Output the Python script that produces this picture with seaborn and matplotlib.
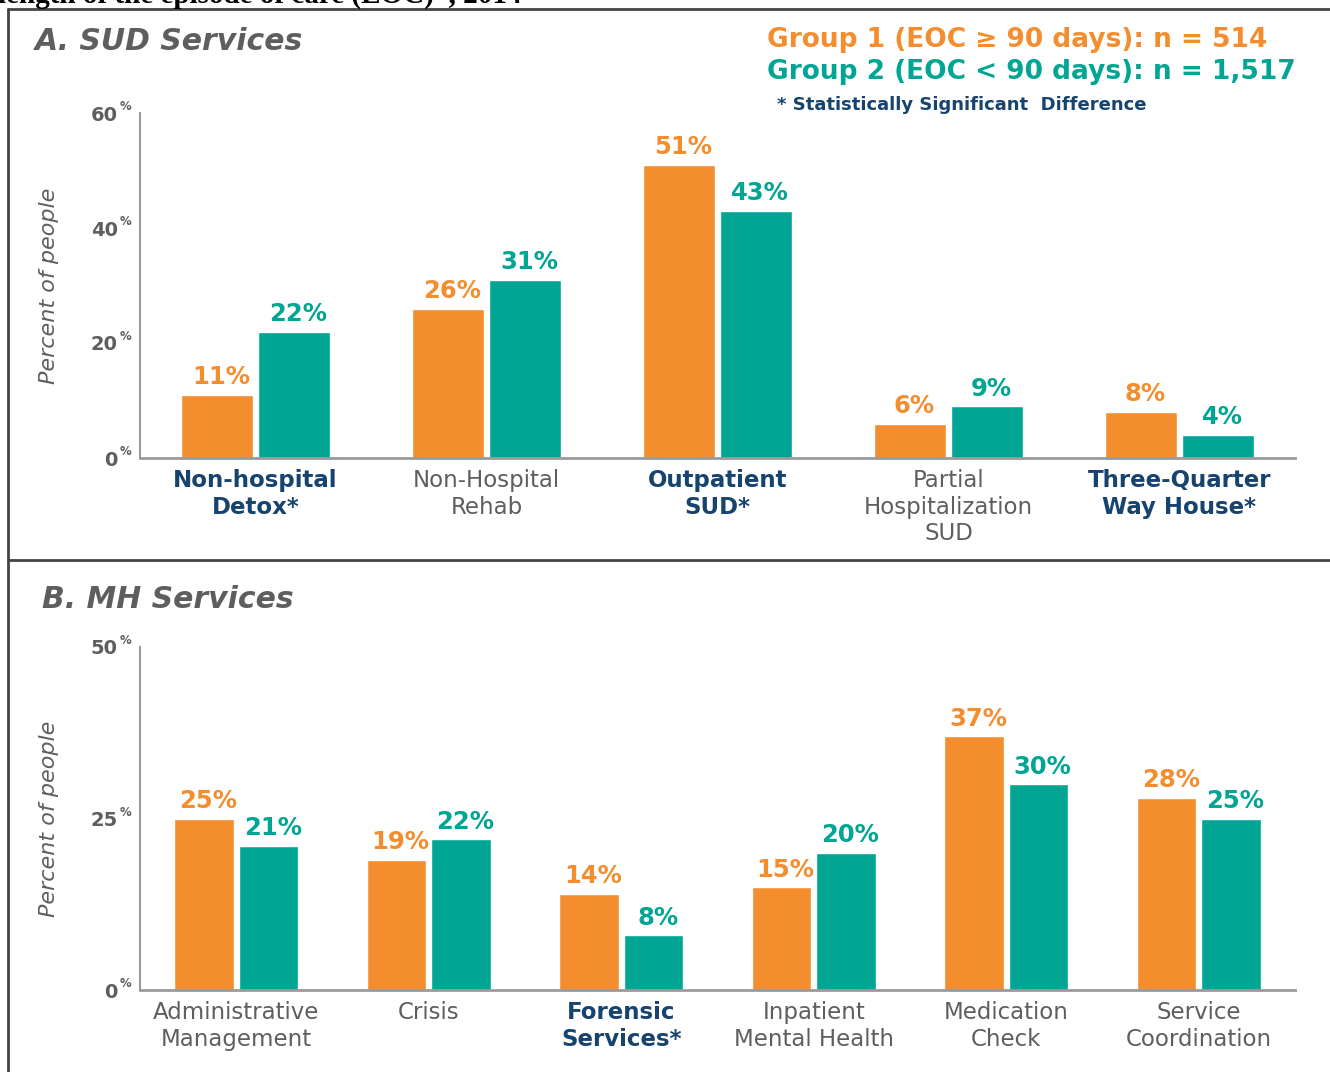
##########################################
# SUD / MH services by episode-of-care length
##########################################

import pandas as pd
import matplotlib.pyplot as plt
import seaborn as sns
from matplotlib.lines import Line2D

# DATA
sud_services = ["Non-hospital\nDetox*", "Non-Hospital\nRehab", "Outpatient\nSUD*",
                "Partial\nHospitalization\nSUD", "Three-Quarter\nWay House*"]
sud_group1 = [11, 26, 51, 6, 8]
sud_group2 = [22, 31, 43, 9, 4]
sud_signif = [True, False, True, False, True]
sud_yticks = [0, 20, 40, 60]

mh_services = ["Administrative\nManagement", "Crisis", "Forensic\nServices*",
               "Inpatient\nMental Health", "Medication\nCheck", "Service\nCoordination"]
mh_group1 = [25, 19, 14, 15, 37, 28]
mh_group2 = [21, 22, 8, 20, 30, 25]
mh_signif = [False, False, True, False, False, False]
mh_yticks = [0, 25, 50]

groups = ["Group 1", "Group 2"]
legend_g1 = "Group 1 (EOC \u2265 90 days): n = 514"
legend_g2 = "Group 2 (EOC < 90 days): n = 1,517"
legend_sig = "* Statistically Significant  Difference"

# STYLE
ORANGE = "#f38d2e"
TEAL = "#00a693"
NAVY = "#17436f"
GRAY = "#5e5e5e"
AXGRAY = "#9a9a9a"

sns.set_style("white")
plt.rcParams["font.family"] = ["DejaVu Sans"]

W, H = 1330, 1072
fig = plt.figure(figsize=(W / 100, H / 100), dpi=100)


def px_axes(left, top, right, bottom):
    return fig.add_axes([left / W, 1 - bottom / H, (right - left) / W, (bottom - top) / H])


def draw_panel(ax, services, g1, g2, signif, yticks):
    df = pd.DataFrame({
        "service": services * 2,
        "group": [groups[0]] * len(services) + [groups[1]] * len(services),
        "pct": g1 + g2,
    })
    sns.barplot(data=df, x="service", y="pct", hue="group", order=services,
                palette=[ORANGE, TEAL], width=0.67, gap=0.07, saturation=1,
                legend=False, ax=ax)
    # value labels
    for cont, col in zip(ax.containers, [ORANGE, TEAL]):
        for p, v in zip(cont.patches, cont.datavalues):
            ax.annotate(f"{v:.0f}%", (p.get_x() + p.get_width() / 2, p.get_height()),
                        xytext=(3, 4), textcoords="offset points", ha="center",
                        va="bottom", fontsize=17.5, fontweight="bold", color=col)
    n = len(services)
    ax.set_xlim(-0.5, n - 0.5)
    ax.set_ylim(yticks[0], yticks[-1])
    ax.set_xlabel("")
    ax.set_ylabel("Percent of people", fontsize=16, style="italic", color=GRAY)
    ax.yaxis.set_label_coords(-0.07, 0.5)
    ax.set_yticks(yticks)
    ax.set_yticklabels([str(t) for t in yticks], fontsize=14, fontweight="bold", color=GRAY)
    for t in yticks:
        ax.annotate("%", (0, t), xycoords=("axes fraction", "data"), xytext=(-6, 0),
                    textcoords="offset points", ha="right", va="bottom",
                    fontsize=8.5, fontweight="bold", color=GRAY)
    ax.tick_params(axis="y", length=0, pad=16)
    ax.set_xticks(range(n))
    ax.set_xticklabels(services, fontsize=16.5, linespacing=1.2)
    for lab, sig in zip(ax.get_xticklabels(), signif):
        if sig:
            lab.set_color(NAVY)
            lab.set_fontweight("bold")
        else:
            lab.set_color(GRAY)
    ax.tick_params(axis="x", which="major", length=0, pad=8)
    ax.set_xticks([i - 0.5 for i in range(n + 1)], minor=True)
    ax.tick_params(axis="x", which="minor", direction="in", length=6, width=1, color=AXGRAY)
    sns.despine(ax=ax)
    ax.spines["left"].set_color(AXGRAY)
    ax.spines["left"].set_linewidth(1.5)
    ax.spines["bottom"].set_color(AXGRAY)
    ax.spines["bottom"].set_linewidth(2)


# panel A
ax_a = px_axes(140, 113, 1295, 458)
draw_panel(ax_a, sud_services, sud_group1, sud_group2, sud_signif, sud_yticks)

# panel B
ax_b = px_axes(140, 647, 1295, 990)
draw_panel(ax_b, mh_services, mh_group1, mh_group2, mh_signif, mh_yticks)

# panel titles and legend text
fig.text(35 / W, 1 - 41 / H, "A. SUD Services", fontsize=21.5, fontweight="bold",
         style="italic", color=GRAY, va="center")
fig.text(42 / W, 1 - 600 / H, "B. MH Services", fontsize=21.5, fontweight="bold",
         style="italic", color=GRAY, va="center")
fig.text(767 / W, 1 - 40 / H, legend_g1, fontsize=19, fontweight="bold", color=ORANGE, va="center")
fig.text(767 / W, 1 - 72 / H, legend_g2, fontsize=19, fontweight="bold", color=TEAL, va="center")
fig.text(777 / W, 1 - 105 / H, legend_sig, fontsize=13, fontweight="bold", color=NAVY, va="center")

# clipped heading from the page above
fig.text(-2 / W, 1 - 3 / H, "length of the episode of care (EOC)*, 2014", fontsize=21,
         fontweight="bold", family="Liberation Serif", color="black", va="baseline")

# panel frames
frame = dict(color="#444444", linewidth=2, transform=fig.transFigure)
fig.add_artist(Line2D([8 / W, 1], [1 - 9 / H, 1 - 9 / H], **frame))
fig.add_artist(Line2D([8 / W, 8 / W], [1 - 9 / H, 0], **frame))
fig.add_artist(Line2D([8 / W, 1], [1 - 560 / H, 1 - 560 / H], **frame))

plt.savefig("out.png", dpi=100)
